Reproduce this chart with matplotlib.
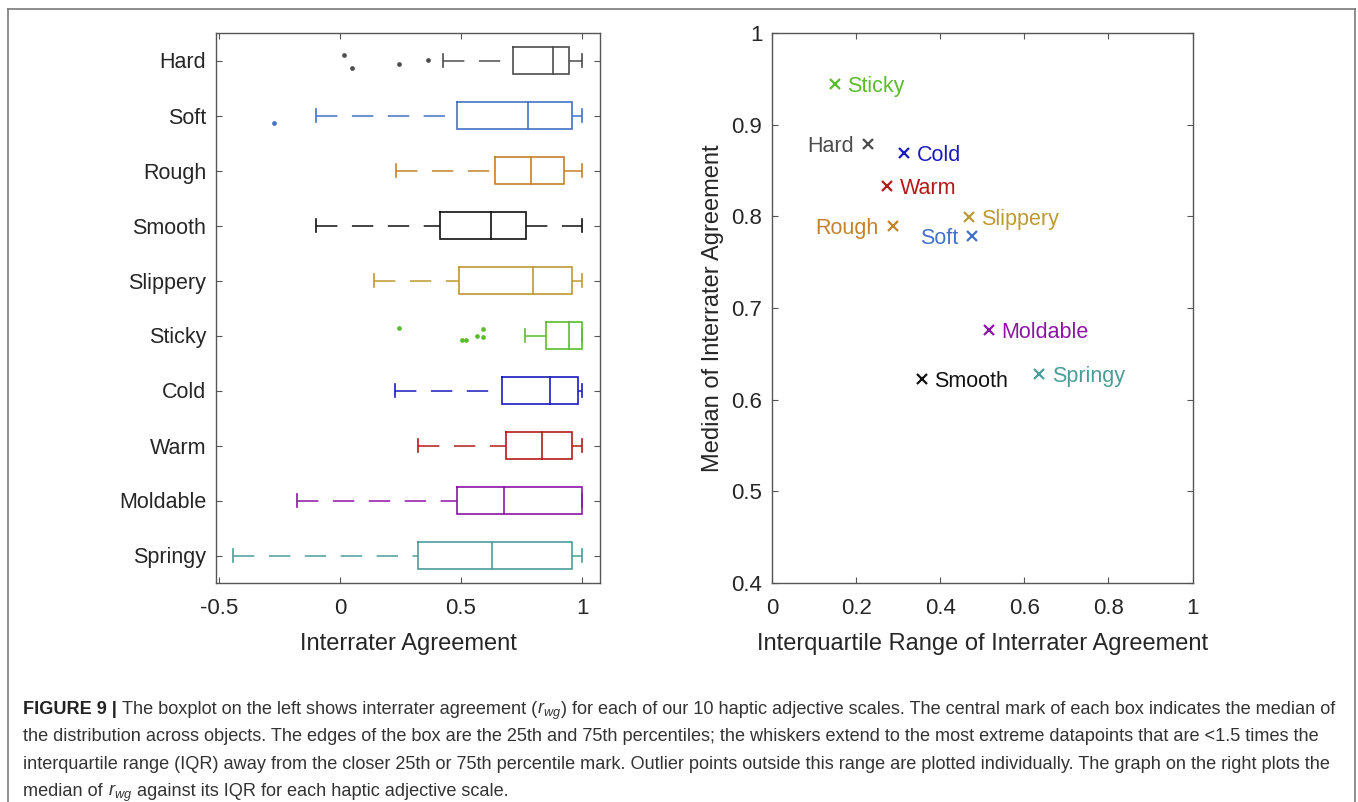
import matplotlib
matplotlib.use("Agg")
import matplotlib.pyplot as plt
from matplotlib.lines import Line2D

plt.rcParams['font.family'] = ['Liberation Sans', 'DejaVu Sans']
plt.rcParams['mathtext.fontset'] = 'custom'
plt.rcParams['mathtext.rm'] = 'Liberation Sans'
plt.rcParams['mathtext.it'] = 'Liberation Sans:italic'

# box statistics
scales = ["Hard", "Soft", "Rough", "Smooth", "Slippery", "Sticky", "Cold", "Warm", "Moldable", "Springy"]
colors = ["#4d4d4d", "#4472c4", "#c4822b", "#111111", "#bd9a32",
          "#5bbd2b", "#1a1ac0", "#b31b1b", "#8e14a8", "#4b9d98"]
whisk_lo = [0.426, -0.100, 0.231, -0.100, 0.140, 0.764, 0.229, 0.324, -0.179, -0.443]
q1 = [0.716, 0.485, 0.639, 0.413, 0.492, 0.851, 0.668, 0.686, 0.485, 0.324]
med = [0.879, 0.778, 0.789, 0.623, 0.799, 0.944, 0.869, 0.833, 0.676, 0.628]
q3 = [0.944, 0.960, 0.926, 0.769, 0.960, 1.000, 0.982, 0.960, 1.000, 0.960]
whisk_hi = [1.0, 1.0, 1.0, 1.0, 1.0, 1.0, 1.0, 1.0, 1.0, 1.0]
outliers = {
    "Hard": [0.017, 0.051, 0.244, 0.365],
    "Soft": [-0.273],
    "Sticky": [0.244, 0.505, 0.519, 0.565, 0.592, 0.592],
}
# vertical jitter of the outlier dots (in category units)
jitter = {
    "Hard": [-0.10, 0.145, 0.06, -0.005],
    "Soft": [0.14],
    "Sticky": [-0.14, 0.085, 0.085, 0.013, -0.115, 0.036],
}
# which side of the marker the label sits on in the right panel
label_side = ["left", "left", "left", "right", "right", "right", "right", "right", "right", "right"]

# caption: (text, style) segments per line
caption_lines = [
    [("FIGURE 9 | ", "bold"),
     ("The boxplot on the left shows interrater agreement (", "normal"),
     ("$r_{wg}$", "math"),
     (") for each of our 10 haptic adjective scales. The central mark of each box indicates the median of", "normal")],
    [("the distribution across objects. The edges of the box are the 25th and 75th percentiles; the whiskers extend to the most extreme datapoints that are <1.5 times the", "normal")],
    [("interquartile range (IQR) away from the closer 25th or 75th percentile mark. Outlier points outside this range are plotted individually. The graph on the right plots the", "normal")],
    [("median of ", "normal"), ("$r_{wg}$", "math"), (" against its IQR for each haptic adjective scale.", "normal")],
]

W, H = 1358, 802
fig = plt.figure(figsize=(W / 100, H / 100), dpi=100)
spine_c = "#555555"
text_c = "#262626"

ax1 = fig.add_axes([216 / W, 1 - 583 / H, 384 / W, 550 / H])
ax2 = fig.add_axes([772 / W, 1 - 583 / H, 420.5 / W, 550 / H])

hw = 0.25   # half box height
cap = 0.115
for i, name in enumerate(scales):
    y = i + 1
    c = colors[i]
    ax1.plot([q1[i], q3[i], q3[i], q1[i], q1[i]], [y - hw, y - hw, y + hw, y + hw, y - hw],
             color=c, lw=1.2, solid_joinstyle='miter')
    ax1.plot([med[i], med[i]], [y - hw, y + hw], color=c, lw=1.2)
    ax1.plot([whisk_lo[i], q1[i]], [y, y], color=c, lw=1.1, ls=(0, (14, 9.5)))
    ax1.plot([q3[i], whisk_hi[i]], [y, y], color=c, lw=1.1, ls=(0, (14, 9.5)))
    ax1.plot([whisk_lo[i], whisk_lo[i]], [y - cap, y + cap], color=c, lw=1.2)
    ax1.plot([whisk_hi[i], whisk_hi[i]], [y - cap, y + cap], color=c, lw=1.2)
    if name in outliers:
        ax1.plot(outliers[name], [y + j for j in jitter[name]], 'o', color=c, ms=3.4, mew=0)

ax1.set_xlim(-0.512, 1.074)
ax1.set_ylim(10.5, 0.5)
ax1.set_yticks(range(1, 11))
ax1.set_yticklabels(scales, fontsize=15.5)
ax1.set_xticks([-0.5, 0, 0.5, 1])
ax1.set_xticklabels(["-0.5", "0", "0.5", "1"], fontsize=16)
ax1.set_xlabel("Interrater Agreement", fontsize=17, color=text_c, labelpad=10)

# right panel: median vs IQR
iqr = [b - a for a, b in zip(q1, q3)]
for i, name in enumerate(scales):
    ax2.plot(iqr[i], med[i], 'x', color=colors[i], ms=7, mew=1.6)
    if label_side[i] == "left":
        ax2.annotate(name, (iqr[i], med[i]), xytext=(-10, 0), textcoords='offset points',
                     ha='right', va='center_baseline', color=colors[i], fontsize=15.5)
    else:
        ax2.annotate(name, (iqr[i], med[i]), xytext=(9, 0), textcoords='offset points',
                     ha='left', va='center_baseline', color=colors[i], fontsize=15.5)

ax2.set_xlim(0, 1)
ax2.set_ylim(0.4, 1.0)
ax2.set_xticks([0, 0.2, 0.4, 0.6, 0.8, 1])
ax2.set_xticklabels(["0", "0.2", "0.4", "0.6", "0.8", "1"], fontsize=16)
ax2.set_yticks([0.4, 0.5, 0.6, 0.7, 0.8, 0.9, 1.0])
ax2.set_yticklabels(["0.4", "0.5", "0.6", "0.7", "0.8", "0.9", "1"], fontsize=16)
ax2.set_xlabel("Interquartile Range of Interrater Agreement", fontsize=17, color=text_c, labelpad=10)
ax2.set_ylabel("Median of Interrater Agreement", fontsize=17, color=text_c, labelpad=5)

for ax in (ax1, ax2):
    for s in ax.spines.values():
        s.set_color(spine_c)
        s.set_linewidth(1.0)
    ax.tick_params(direction='in', top=True, right=True, length=4, width=0.8,
                   color=spine_c, labelcolor=text_c)
    ax.tick_params(axis='x', pad=11)
    ax.tick_params(axis='y', pad=7)

# outer frame
frame_c = "#7a7a7a"
for xs, ys in [([8, 8], [H + 5, 9]), ([8, 1355], [9, 9]), ([1355, 1355], [9, H + 5])]:
    fig.add_artist(Line2D([x / W for x in xs], [1 - y / H for y in ys],
                          transform=fig.transFigure, color=frame_c, lw=1.2))

# caption, sized so the first line fills the width
renderer = fig.canvas.get_renderer()
x0, x_end = 23, 1340
base, step = 714, 27.3
fs = 13.5

rows = []
for k, segs in enumerate(caption_lines):
    row = []
    for txt, style in segs:
        t = fig.text(0, 1 - (base + step * k) / H, txt, fontsize=fs, va='baseline',
                     color="#222222" if style == "bold" else "#333333",
                     fontweight='bold' if style == "bold" else 'normal')
        row.append(t)
    rows.append(row)


def place(row):
    x = x0
    for t in row:
        t.set_x(x / W)
        x += t.get_window_extent(renderer).width
    return x


total = place(rows[0]) - x0
fs = fs * (x_end - x0) / total
for row in rows:
    for t in row:
        t.set_fontsize(fs)
    place(row)

fig.savefig("out.png", dpi=100)
